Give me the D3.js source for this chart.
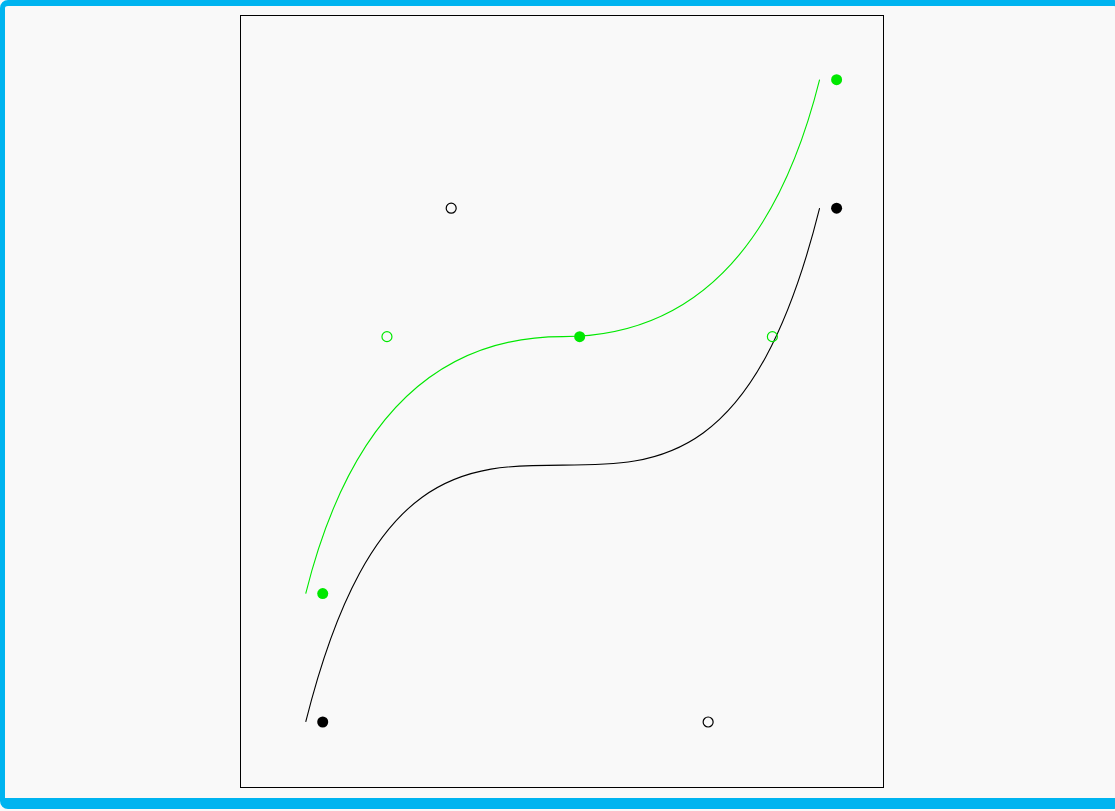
<!DOCTYPE html>
<html><head><meta charset="utf-8">
<script src="https://cdn.jsdelivr.net/npm/d3@7"></script>
<style>
html,body{margin:0;padding:0;background:#f9f9f9;overflow:hidden}
#frame{position:absolute;left:0;top:0;width:1122px;height:809px;box-sizing:border-box;
border:5px solid #00b4f0;border-top-width:6px;border-bottom-width:11px;border-radius:8px;background:#f9f9f9}
svg{position:absolute;left:0;top:0}
</style></head>
<body><div id="frame"></div>
<svg id="chart" width="1115" height="811"></svg>
<script>
// cubic bezier (black) : endpoints + control points
const blackPoints = [[0,0],[1,4],[3,0],[4,4]];
const blackFilled = [true,false,false,true];
// quadratic spline (green): endpoint, control, join, control, endpoint
const greenPoints = [[0,1],[0.5,3],[2,3],[3.5,3],[4,5]];
const greenFilled = [true,false,true,false,true];
const xDomain = [-0.64, 4.365];
const yDomain = [-0.51, 5.5];

const svg = d3.select("#chart");
const x = d3.scaleLinear().domain(xDomain).range([240.5,883.5]);
const y = d3.scaleLinear().domain(yDomain).range([787.5,15.5]);

svg.append("rect").attr("x",x(xDomain[0])).attr("y",y(yDomain[1]))
  .attr("width",x(xDomain[1])-x(xDomain[0])).attr("height",y(yDomain[0])-y(yDomain[1]))
  .attr("fill","none").attr("stroke","#000").attr("stroke-width",1);

const curves = svg.append("g").attr("transform","translate(-17,0)");
// black cubic
const bp = d3.path();
bp.moveTo(x(blackPoints[0][0]),y(blackPoints[0][1]));
bp.bezierCurveTo(x(blackPoints[1][0]),y(blackPoints[1][1]),x(blackPoints[2][0]),y(blackPoints[2][1]),x(blackPoints[3][0]),y(blackPoints[3][1]));
curves.append("path").attr("d",bp.toString()).attr("fill","none").attr("stroke","#000").attr("stroke-width",1.1);
// green quadratic spline
const gp = d3.path();
gp.moveTo(x(greenPoints[0][0]),y(greenPoints[0][1]));
gp.quadraticCurveTo(x(greenPoints[1][0]),y(greenPoints[1][1]),x(greenPoints[2][0]),y(greenPoints[2][1]));
gp.quadraticCurveTo(x(greenPoints[3][0]),y(greenPoints[3][1]),x(greenPoints[4][0]),y(greenPoints[4][1]));
curves.append("path").attr("d",gp.toString()).attr("fill","none").attr("stroke","#00e800").attr("stroke-width",1.1);

function dots(pts, filled, color){
  svg.append("g").selectAll("circle").data(pts).join("circle")
    .attr("cx",d=>x(d[0])).attr("cy",d=>y(d[1]))
    .attr("r",(d,i)=>filled[i]?5.5:5)
    .attr("fill",(d,i)=>filled[i]?color:"none")
    .attr("stroke",(d,i)=>filled[i]?"none":color)
    .attr("stroke-width",1.2);
}
dots(blackPoints, blackFilled, "#000");
dots(greenPoints, greenFilled, "#00e800");
</script></body></html>
